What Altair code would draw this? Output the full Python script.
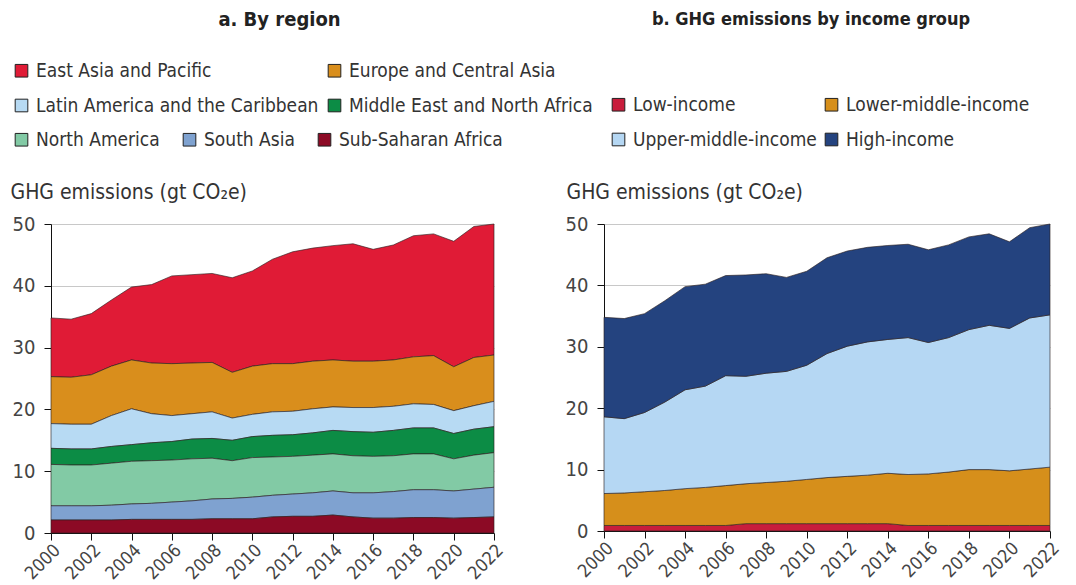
import altair as alt
import pandas as pd

years = list(range(2000, 2023))
tick_years = list(range(2000, 2023, 2))
y_ticks = [0, 10, 20, 30, 40, 50]

# ---- Panel a: by region (gt CO2e) ----
regions = ["East Asia and Pacific", "Europe and Central Asia",
           "Latin America and the Caribbean", "Middle East and North Africa",
           "North America", "South Asia", "Sub-Saharan Africa"]
region_colors = ["#e01b36", "#d98e1c", "#b7daf3", "#0c8c45",
                 "#82caa5", "#7fa2d0", "#8c0a25"]

eap = [9.5, 9.4, 9.9, 10.7, 11.8, 12.7, 14.2, 14.3, 14.4, 15.3, 15.4, 16.9,
       18.1, 18.3, 18.5, 19.0, 18.1, 18.6, 19.6, 19.7, 20.3, 21.2, 21.2]
eca = [7.6, 7.6, 8.0, 8.0, 7.9, 8.2, 8.4, 8.2, 8.0, 7.4, 7.8, 7.8,
       7.7, 7.7, 7.6, 7.5, 7.5, 7.5, 7.6, 7.9, 7.1, 7.8, 7.5]
lac = [4.0, 4.0, 4.0, 5.0, 5.8, 4.7, 4.2, 4.1, 4.3, 3.6, 3.6, 3.8,
       3.8, 3.9, 3.8, 3.9, 4.0, 3.9, 3.9, 3.8, 3.7, 3.8, 4.1]
mena = [2.6, 2.6, 2.6, 2.7, 2.7, 2.9, 3.0, 3.2, 3.2, 3.3, 3.4, 3.5,
        3.5, 3.6, 3.8, 3.9, 3.9, 4.1, 4.2, 4.2, 4.1, 4.2, 4.2]
nam = [6.7, 6.6, 6.6, 6.8, 6.9, 6.9, 6.8, 6.8, 6.6, 6.1, 6.4, 6.2,
       6.1, 6.1, 6.0, 6.0, 5.9, 5.8, 5.8, 5.8, 5.2, 5.5, 5.6]
sas = [2.3, 2.3, 2.3, 2.4, 2.5, 2.6, 2.8, 3.0, 3.2, 3.3, 3.5, 3.5,
       3.6, 3.8, 3.9, 3.9, 4.1, 4.3, 4.5, 4.5, 4.4, 4.6, 4.8]
ssa = [2.1, 2.1, 2.1, 2.1, 2.2, 2.2, 2.2, 2.2, 2.3, 2.3, 2.3, 2.6,
       2.7, 2.7, 2.9, 2.6, 2.4, 2.4, 2.5, 2.5, 2.4, 2.5, 2.6]
region_series = [eap, eca, lac, mena, nam, sas, ssa]

# ---- Panel b: by income group (gt CO2e) ----
incomes = ["Low-income", "Lower-middle-income", "Upper-middle-income", "High-income"]
income_colors = ["#c81d3c", "#d68f1b", "#b5d7f3", "#24437f"]

low = [0.9, 0.9, 0.9, 0.9, 0.9, 0.9, 0.9, 1.2, 1.2, 1.2, 1.2, 1.2,
       1.2, 1.2, 1.2, 0.9, 0.9, 0.9, 0.9, 0.9, 0.9, 0.9, 0.9]
lmi = [5.2, 5.3, 5.5, 5.7, 6.0, 6.2, 6.5, 6.5, 6.7, 6.9, 7.2, 7.5,
       7.7, 7.9, 8.2, 8.3, 8.4, 8.7, 9.1, 9.1, 8.9, 9.2, 9.5]
umi = [12.5, 12.1, 12.9, 14.4, 16.1, 16.5, 17.9, 17.5, 17.8, 17.9, 18.6, 20.2,
       21.2, 21.7, 21.8, 22.3, 21.4, 21.9, 22.8, 23.5, 23.2, 24.6, 24.8]
hic = [16.2, 16.3, 16.1, 16.5, 16.8, 16.6, 16.3, 16.5, 16.2, 15.3, 15.3, 15.6,
       15.5, 15.4, 15.3, 15.2, 15.1, 15.1, 15.1, 14.9, 14.1, 14.7, 14.8]
income_series = [low, lmi, umi, hic]

FONT = "DejaVu Sans Condensed, Liberation Sans Narrow, Liberation Sans, sans-serif"
AXIS_TITLE = "GHG emissions (gt CO\u2082e)"

rows = []
n = len(regions)
for i, (name, vals) in enumerate(zip(regions, region_series)):
    for yr, v in zip(years, vals):
        rows.append({"year": yr, "group": name, "value": v, "ord": n - i})
df_a = pd.DataFrame(rows)

rows = []
for i, (name, vals) in enumerate(zip(incomes, income_series)):
    for yr, v in zip(years, vals):
        rows.append({"year": yr, "group": name, "value": v, "ord": i})
df_b = pd.DataFrame(rows)


def x_enc():
    return alt.X("year:Q", scale=alt.Scale(domain=[2000, 2022], nice=False, zero=False),
                 axis=alt.Axis(values=tick_years, format="d", title=None, labelAngle=-45,
                               labelFontSize=18, labelColor="#444", labelFont=FONT,
                               labelOverlap=False, labelBound=False,
                               tickSize=7, tickColor="#111", domainColor="#111",
                               grid=False, labelPadding=1))


def y_enc(tx):
    return alt.Y("y1:Q", scale=alt.Scale(domain=[0, 50], nice=False),
                 axis=alt.Axis(values=y_ticks, title=AXIS_TITLE, titleAngle=0,
                               titleAlign="left", titleBaseline="alphabetic",
                               titleX=tx, titleY=-26, titleFont=FONT, titleFontSize=21,
                               titleFontWeight="normal", titleColor="#333",
                               labelFontSize=20, labelColor="#444", labelFont=FONT,
                               tickSize=7, tickColor="#111", domainColor="#111",
                               grid=True, gridColor="#c8c8c8", labelPadding=9))


area_style = dict(stroke="#2a2020", strokeWidth=0.8, strokeOpacity=0.8)

legend_common = dict(title=None, orient="none", direction="horizontal", symbolType="square",
                     symbolSize=160, symbolStrokeColor="#222", symbolStrokeWidth=1,
                     labelFont=FONT, labelFontSize=19, labelColor="#333", labelLimit=400,
                     symbolOffset=0, labelOffset=5)

base_a = alt.Chart(df_a).transform_stack(
    stack="value", groupby=["year"], as_=["y0", "y1"],
    sort=[alt.SortField("ord", order="ascending")])

top_regions = regions[:4]
bot_regions = regions[4:]

layer_a1 = base_a.transform_filter(
    alt.FieldOneOfPredicate(field="group", oneOf=top_regions)
).mark_area(**area_style).encode(
    x=x_enc(), y=y_enc(-41), y2="y0:Q",
    color=alt.Color("group:N", scale=alt.Scale(domain=top_regions, range=region_colors[:4]),
                    legend=alt.Legend(columns=2, columnPadding=6, rowPadding=15,
                                      legendX=-39, legendY=-163, **legend_common)),
)
layer_a2 = base_a.transform_filter(
    alt.FieldOneOfPredicate(field="group", oneOf=bot_regions)
).mark_area(**area_style).encode(
    x=x_enc(), y=y_enc(-41), y2="y0:Q",
    fill=alt.Fill("group:N", scale=alt.Scale(domain=bot_regions, range=region_colors[4:]),
                  legend=alt.Legend(columns=3, columnPadding=20, rowPadding=15,
                                    legendX=-39, legendY=-94, **legend_common)),
)

chart_a = alt.layer(layer_a1, layer_a2).resolve_scale(color="independent", fill="independent").properties(
    width=443, height=309,
    title=alt.TitleParams("a. By region", font=FONT, fontSize=20, fontWeight="bold",
                          color="#222", anchor="middle", frame="group", offset=31, dx=7),
)

chart_b = alt.Chart(df_b).transform_stack(
    stack="value", groupby=["year"], as_=["y0", "y1"],
    sort=[alt.SortField("ord", order="ascending")]
).mark_area(**area_style).encode(
    x=x_enc(), y=y_enc(-38), y2="y0:Q",
    color=alt.Color("group:N", scale=alt.Scale(domain=incomes, range=income_colors),
                    legend=alt.Legend(columns=2, columnPadding=5, rowPadding=15,
                                      legendX=5, legendY=-129, **legend_common)),
).properties(
    width=446, height=307,
    title=alt.TitleParams("b. GHG emissions by income group", font=FONT, fontSize=18,
                          fontWeight="bold", color="#222", anchor="middle", frame="group",
                          offset=66, dx=-16),
)

chart = alt.hconcat(chart_a, chart_b, spacing=-28).resolve_scale(
    color="independent", fill="independent"
).properties(padding=2).configure_view(stroke=None)

chart.save("out.html", embed_options={"renderer": "svg", "actions": False})
